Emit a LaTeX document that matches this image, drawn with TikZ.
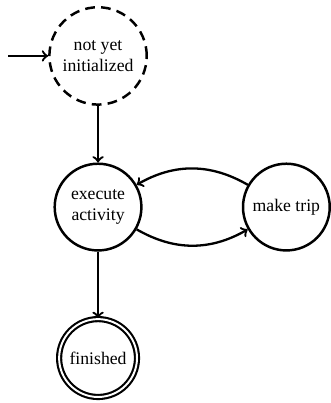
\documentclass[tikz,border=0pt]{standalone}
\usepackage{fontspec}
\setmainfont{Liberation Serif}
\newfontfamily\statefont{Liberation Serif}
\usetikzlibrary{positioning}

\begin{document}
\begin{tikzpicture}[font=\statefont, node distance=32pt,
state/.style={circle, draw, line width=1.4pt, align=center, inner sep=0pt},
arrow/.style={->, line width=1.3pt}
]

% Start state
\node[state, dashed, dash pattern=on 5.5pt off 3.5pt, minimum size=55pt] (init)
{not yet\\initialized};
\coordinate[left=22.6pt of init] (start);

% Activity
\node[state, minimum size=49pt, below=of init] (exec)
{execute\\activity};

% Trip
\node[state, minimum size=49pt, right=56pt of exec] (trip)
{make trip};

% Final state
\node[state, double, double distance=1.1pt, line width=1.2pt, minimum size=44pt, below=37.5pt of exec] (fin)
{finished};

% Arrows
\draw[arrow] (start) -- (init);
\draw[arrow] (init) -- (exec);
\draw[arrow] (exec) to[bend right=30] (trip);
\draw[arrow] (trip) to[bend right=30] (exec);
\draw[arrow] (exec) -- (fin);

\useasboundingbox ([shift={(-55.4pt,31.6pt)}]init.center) rectangle ([shift={(130.5pt,-196.1pt)}]init.center);

\end{tikzpicture}
\end{document}
